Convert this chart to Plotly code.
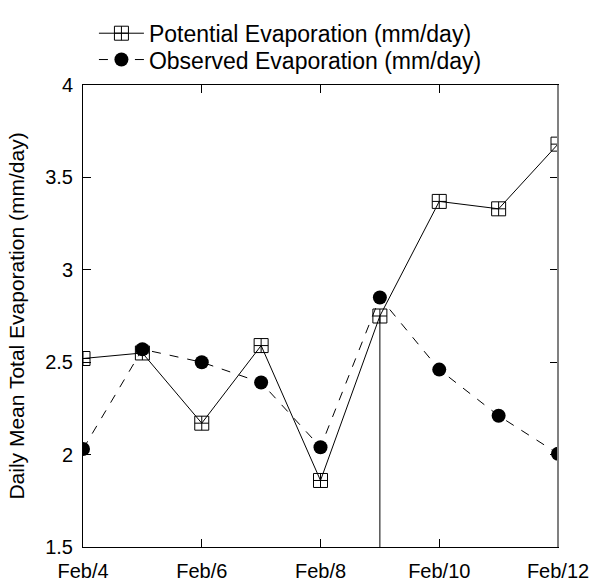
import plotly.graph_objects as go

days = [4, 5, 6, 7, 8, 9, 10, 11, 12]
potential = [2.52, 2.55, 2.17, 2.59, 1.86, 2.75, 3.37, 3.33, 3.68]
observed = [2.03, 2.57, 2.50, 2.39, 2.04, 2.85, 2.46, 2.21, 2.005]
x_tickvals = [4, 6, 8, 10, 12]
x_ticktext = ["Feb/4", "Feb/6", "Feb/8", "Feb/10", "Feb/12"]
y_tickvals = [1.5, 2, 2.5, 3, 3.5, 4]
y_ticktext = ["1.5", "2", "2.5", "3", "3.5", "4"]
y_range = [1.5, 4]
marker_day_index = 5

FONT = "Liberation Sans, Arial, sans-serif"

fig = go.Figure()
fig.add_trace(go.Scatter(
    x=days, y=potential, mode="lines+markers",
    name="Potential Evaporation (mm/day)", legend="legend",
    line=dict(color="black", width=1),
    marker=dict(symbol="square-cross-open", size=14, color="black", line=dict(width=1)),
))
fig.add_trace(go.Scatter(
    x=days, y=observed, mode="lines+markers",
    name="Observed Evaporation (mm/day)", legend="legend2",
    line=dict(color="black", width=1, dash="dash"),
    marker=dict(symbol="circle", size=14, color="black"),
))

fig.add_shape(type="line", xref="x", yref="y",
              x0=days[marker_day_index], x1=days[marker_day_index],
              y0=y_range[0], y1=potential[marker_day_index],
              line=dict(color="black", width=1))
# right frame edge is drawn grey and slightly heavier in the reference
fig.add_shape(type="line", xref="paper", yref="paper", x0=1, x1=1, y0=0, y1=1,
              line=dict(color="#808080", width=2))

axis_common = dict(showline=True, linecolor="black", linewidth=1, mirror="ticks",
                   ticks="inside", ticklen=8, tickcolor="black", showgrid=False,
                   zeroline=False, automargin=False,
                   tickfont=dict(family=FONT, size=20, color="black"))

fig.update_xaxes(range=[4, 12], tickvals=x_tickvals, ticktext=x_ticktext,
                 ticklabelstandoff=6, **axis_common)
fig.update_yaxes(range=y_range, tickvals=y_tickvals, ticktext=y_ticktext,
                 ticklabelstandoff=5,
                 title=dict(text="Daily Mean Total Evaporation (mm/day)",
                            font=dict(family=FONT, size=21, color="black"), standoff=14),
                 **axis_common)

leg_common = dict(xanchor="left", yanchor="middle", bgcolor="rgba(0,0,0,0)",
                  font=dict(family=FONT, size=23, color="black"), itemwidth=45)

fig.update_layout(
    width=597, height=587,
    margin=dict(l=83, r=39, t=75, b=40),
    paper_bgcolor="white", plot_bgcolor="white",
    font=dict(family=FONT, size=20, color="black"),
    showlegend=True,
    legend=dict(x=0.023, y=1.112, **leg_common),
    legend2=dict(x=0.023, y=1.055, **leg_common),
)

fig.write_html("out.html", config={"displayModeBar": False},
               post_script="document.body.style.margin='0';")
